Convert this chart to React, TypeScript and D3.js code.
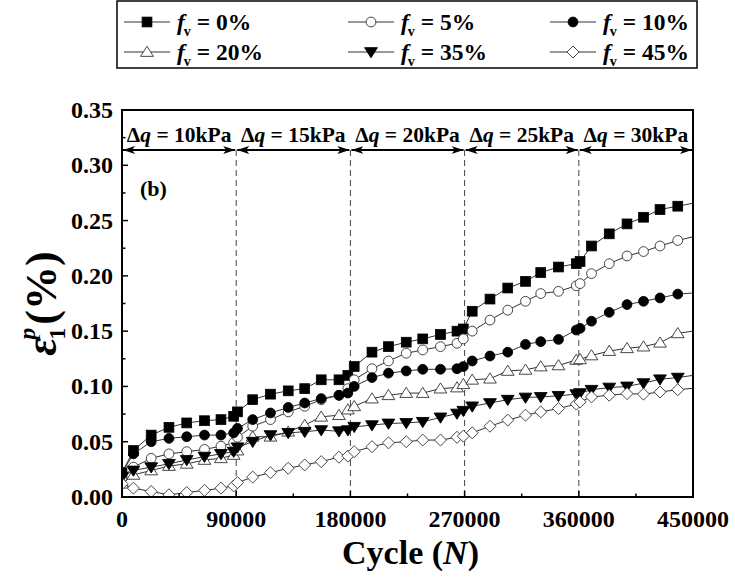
import React from "react";
import * as d3 from "d3";

const cycles = [0, 9000, 23000, 37000, 51000, 65000, 78000, 88000, 91000, 103000, 117000, 131000, 144000, 157000, 171000, 178000, 183000, 197000, 210000, 224000, 237000, 251000, 264000, 269000, 276000, 290000, 304000, 318000, 330000, 344000, 358000, 361000, 370000, 384000, 398000, 411000, 424000, 438000, 456000];

const fv0 = [0.022, 0.042, 0.056, 0.063, 0.067, 0.069, 0.070, 0.073, 0.077, 0.088, 0.093, 0.096, 0.098, 0.106, 0.106, 0.110, 0.118, 0.131, 0.136, 0.140, 0.143, 0.147, 0.150, 0.152, 0.168, 0.179, 0.189, 0.195, 0.203, 0.208, 0.211, 0.213, 0.227, 0.238, 0.247, 0.253, 0.260, 0.263, 0.267];
const fv5 = [0.017, 0.027, 0.035, 0.039, 0.041, 0.043, 0.046, 0.049, 0.054, 0.064, 0.070, 0.077, 0.082, 0.088, 0.092, 0.098, 0.106, 0.116, 0.123, 0.130, 0.133, 0.136, 0.139, 0.143, 0.150, 0.160, 0.169, 0.177, 0.184, 0.186, 0.191, 0.193, 0.202, 0.211, 0.218, 0.222, 0.227, 0.232, 0.237];
const fv10 = [0.022, 0.039, 0.050, 0.053, 0.0545, 0.056, 0.056, 0.058, 0.062, 0.070, 0.076, 0.081, 0.085, 0.089, 0.092, 0.094, 0.100, 0.108, 0.112, 0.114, 0.1155, 0.1155, 0.116, 0.118, 0.123, 0.1275, 0.131, 0.138, 0.1405, 0.1425, 0.151, 0.1525, 0.159, 0.167, 0.174, 0.177, 0.180, 0.1835, 0.185];
const fv20 = [0.012, 0.020, 0.024, 0.028, 0.030, 0.0335, 0.035, 0.038, 0.042, 0.0545, 0.0545, 0.059, 0.065, 0.0725, 0.074, 0.079, 0.082, 0.089, 0.092, 0.094, 0.094, 0.098, 0.099, 0.102, 0.106, 0.107, 0.114, 0.115, 0.118, 0.119, 0.124, 0.1245, 0.128, 0.132, 0.1345, 0.136, 0.1395, 0.148, 0.151];
const fv35 = [0.018, 0.024, 0.027, 0.030, 0.0335, 0.0365, 0.039, 0.041, 0.045, 0.050, 0.056, 0.058, 0.059, 0.0605, 0.0595, 0.0605, 0.0635, 0.065, 0.0665, 0.067, 0.068, 0.072, 0.0755, 0.078, 0.082, 0.085, 0.088, 0.090, 0.0905, 0.0915, 0.093, 0.094, 0.097, 0.099, 0.100, 0.103, 0.1065, 0.108, 0.111];
const fv45 = [0.012, 0.008, 0.005, 0.002, 0.004, 0.006, 0.008, 0.010, 0.013, 0.018, 0.022, 0.026, 0.029, 0.032, 0.036, 0.037, 0.041, 0.0455, 0.049, 0.050, 0.0515, 0.0515, 0.054, 0.055, 0.058, 0.064, 0.0695, 0.074, 0.077, 0.080, 0.084, 0.086, 0.0905, 0.092, 0.0935, 0.093, 0.095, 0.097, 0.099];

const seriesLabels = ["0%", "5%", "10%", "20%", "35%", "45%"];
const seriesMarkers = ["squareFilled", "circleOpen", "circleFilled", "triangleOpen", "triDownFilled", "diamondOpen"];
const seriesValues = [fv0, fv5, fv10, fv20, fv35, fv45];

const xTicks = [0, 90000, 180000, 270000, 360000, 450000];
const yTicks = [0, 0.05, 0.1, 0.15, 0.2, 0.25, 0.3, 0.35];
const stageBounds = [0, 90000, 180000, 270000, 360000, 450000];
const stageLabels = ["10kPa", "15kPa", "20kPa", "25kPa", "30kPa"];

const W = 735, H = 581;
const L = 122, R = 693, T = 110, B = 497;
const FONT = "Liberation Serif";

function Marker({ type, x, y }: { type: string; x: number; y: number }) {
  const s = 4.9;
  const filled = type.endsWith("Filled");
  const fill = filled ? "#000" : "#fff";
  const stroke = filled ? "#000" : "#333";
  if (type.startsWith("square")) return <rect x={x - s} y={y - s} width={2 * s} height={2 * s} fill={fill} stroke={stroke} strokeWidth={0.8} />;
  if (type.startsWith("circle")) return <circle cx={x} cy={y} r={s} fill={fill} stroke={stroke} strokeWidth={0.9} />;
  if (type.startsWith("triangle")) {
    const h = 5.8;
    return <path d={`M${x},${y - h}L${x + h * 1.1},${y + h * 0.75}L${x - h * 1.1},${y + h * 0.75}Z`} fill={fill} stroke={stroke} strokeWidth={0.9} />;
  }
  if (type.startsWith("triDown")) {
    const h = 5.8;
    return <path d={`M${x},${y + h}L${x + h * 1.1},${y - h * 0.75}L${x - h * 1.1},${y - h * 0.75}Z`} fill={fill} stroke={stroke} strokeWidth={0.9} />;
  }
  const h = 6;
  return <path d={`M${x},${y - h}L${x + h},${y}L${x},${y + h}L${x - h},${y}Z`} fill={fill} stroke={stroke} strokeWidth={0.9} />;
}

export default function App() {
  const x = d3.scaleLinear().domain([0, 450000]).range([L, R]);
  const y = d3.scaleLinear().domain([0, 0.35]).range([B, T]);
  const line = d3.line<[number, number]>().x((d) => x(d[0])).y((d) => y(d[1]));
  const xMinor = d3.range(45000, 450000, 90000);
  const yMinor = d3.range(0.025, 0.35, 0.05);
  const arrowY = 150;

  const legendCols = [124, 348, 550];
  const legendRows = [22, 52];

  return (
    <svg width={W} height={H} style={{ position: "absolute", left: 0, top: 0, background: "#fff", fontFamily: FONT }}>
      <defs>
        <clipPath id="plotClip">
          <rect x={L} y={T} width={R - L} height={B - T} />
        </clipPath>
        <marker id="ahEnd" viewBox="0 0 12 8" refX="12" refY="4" markerWidth="12" markerHeight="8" markerUnits="userSpaceOnUse" orient="auto">
          <path d="M0,0L12,4L0,8L3,4Z" fill="#000" />
        </marker>
        <marker id="ahStart" viewBox="0 0 12 8" refX="0" refY="4" markerWidth="12" markerHeight="8" markerUnits="userSpaceOnUse" orient="auto">
          <path d="M12,0L0,4L12,8L9,4Z" fill="#000" />
        </marker>
      </defs>

      {/* legend */}
      <rect x={117} y={1} width={580} height={67} fill="#fff" stroke="#000" strokeWidth={1.5} />
      {seriesLabels.map((lab, i) => {
        const cx = legendCols[i % 3];
        const cy = legendRows[Math.floor(i / 3)];
        return (
          <g key={lab}>
            <line x1={cx} x2={cx + 46} y1={cy} y2={cy} stroke="#333" strokeWidth={1} />
            <Marker type={seriesMarkers[i]} x={cx + 23} y={cy} />
            <text x={cx + 53} y={cy + 8} fontSize={23.5} fontWeight="bold">
              <tspan fontStyle="italic">f</tspan>
              <tspan fontSize={14} dy={6} dx={-1}>v</tspan>
              <tspan dy={-6}> = {lab}</tspan>
            </text>
          </g>
        );
      })}

      {/* dashed stage lines */}
      {stageBounds.slice(1, 5).map((b) => (
        <line key={b} x1={x(b)} x2={x(b)} y1={arrowY} y2={B} stroke="#444" strokeWidth={1} strokeDasharray="6,4" />
      ))}

      {/* stage arrows and labels */}
      {stageLabels.map((lab, i) => {
        const x0 = x(stageBounds[i]);
        const x1 = x(stageBounds[i + 1]);
        return (
          <g key={lab}>
            <line x1={x0 + 1} x2={x1 - 1} y1={arrowY} y2={arrowY} stroke="#000" strokeWidth={2.2} markerStart="url(#ahStart)" markerEnd="url(#ahEnd)" />
            <text x={(x0 + x1) / 2} y={arrowY - 8} textAnchor="middle" fontSize={21.5} fontWeight="bold">
              Δ<tspan fontStyle="italic">q</tspan> = {lab}
            </text>
          </g>
        );
      })}

      <text x={140} y={196} fontSize={22} fontWeight="bold">(b)</text>

      {/* series */}
      <g clipPath="url(#plotClip)">
        {seriesValues.map((vals, i) => {
          const pts: [number, number][] = cycles.map((c, j) => [c, vals[j]]);
          return (
            <g key={i}>
              <path d={line(pts) || ""} fill="none" stroke="#333" strokeWidth={1} />
              {pts.map((p, j) => (
                <Marker key={j} type={seriesMarkers[i]} x={x(p[0])} y={y(p[1])} />
              ))}
            </g>
          );
        })}
      </g>

      {/* frame */}
      <rect x={L} y={T} width={R - L} height={B - T} fill="none" stroke="#000" strokeWidth={2} />

      {/* x ticks */}
      {xTicks.map((t) => (
        <g key={t}>
          <line x1={x(t)} x2={x(t)} y1={B} y2={B - 6} stroke="#000" strokeWidth={1.5} />
          <text x={x(t)} y={527} textAnchor="middle" fontSize={24} fontWeight="bold">{t}</text>
        </g>
      ))}
      {xMinor.map((t) => (
        <line key={t} x1={x(t)} x2={x(t)} y1={B} y2={B - 3.5} stroke="#000" strokeWidth={1.5} />
      ))}

      {/* y ticks */}
      {yTicks.map((t) => (
        <g key={t}>
          <line x1={L} x2={L + 6} y1={y(t)} y2={y(t)} stroke="#000" strokeWidth={1.5} />
          <text x={113} y={y(t) + 8} textAnchor="end" fontSize={24} fontWeight="bold">{t.toFixed(2)}</text>
        </g>
      ))}
      {yMinor.map((t) => (
        <line key={t} x1={L} x2={L + 3.5} y1={y(t)} y2={y(t)} stroke="#000" strokeWidth={1.5} />
      ))}

      {/* axis titles */}
      <text x={(L + R) / 2 + 3} y={564} textAnchor="middle" fontSize={34} fontWeight="bold">
        Cycle (<tspan fontStyle="italic">N</tspan>)
      </text>
      <g transform={`translate(56, ${(T + B) / 2}) rotate(-90)`}>
        <text x={0} y={0} textAnchor="middle" fontSize={44} fontWeight="bold">
          <tspan fontStyle="italic">ε</tspan>
          <tspan fontSize={24} dy={9} dx={-2}>1</tspan>
          <tspan fontSize={24} fontStyle="italic" dy={-30} dx={-12}>p</tspan>
          <tspan dy={21} dx={3}>(%)</tspan>
        </text>
      </g>
    </svg>
  );
}
